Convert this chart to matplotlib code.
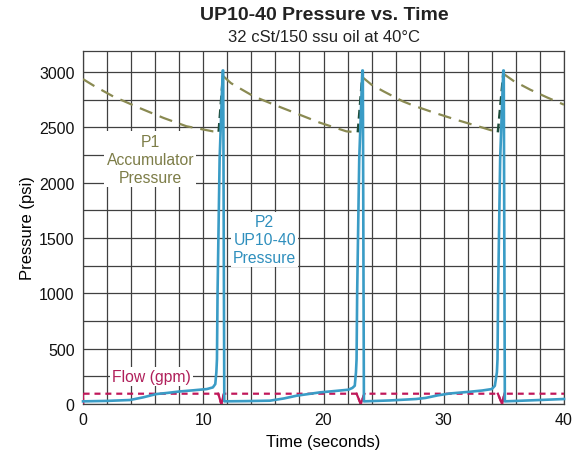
import numpy as np
import matplotlib
matplotlib.use("Agg")
import matplotlib.pyplot as plt

plt.rcParams['font.family'] = ['Liberation Sans', 'DejaVu Sans']

# P1 accumulator pressure (psi) vs time (s)
p1_t = [0, 0.9, 1.6, 2.5, 4.7, 6.7, 8.6, 10.8, 11.28, 11.64, 12.3, 13.0, 14.2, 16.0, 18.0,
        19.7, 21.9, 22.85, 23.22, 24.0, 25.0, 26.6, 27.5, 29.0, 31.0, 33.0, 34.5, 34.95,
        35.8, 37.2, 38.6, 40]
p1_p = [2936, 2876, 2834, 2780, 2675, 2585, 2510, 2464, 2460, 2965, 2900, 2855, 2780, 2700, 2615,
        2542, 2464, 2455, 2955, 2885, 2825, 2735, 2696, 2640, 2570, 2505, 2455, 2985,
        2920, 2840, 2770, 2705]

# P2 UP10-40 pressure (psi)
p2_t = [0, 2.0, 3.9, 5.0, 6.1, 7.0, 8.1, 9.2, 10.3, 10.8, 11.0, 11.09, 11.14, 11.19, 11.36, 11.62, 11.66, 11.75,
        13.5, 15.55, 16.7, 17.77, 19.7, 21.0, 22.06, 22.4, 22.6, 22.7, 22.75, 22.8, 22.97, 23.23, 23.27, 23.36,
        25.5, 27.7, 28.5, 29.5, 30.5, 32.2, 33.2, 34.0, 34.25, 34.42, 34.47, 34.52, 34.69, 34.95, 34.99, 35.08,
        37.5, 40]
p2_p = [24, 28, 36, 60, 90, 100, 114, 124, 135, 150, 180, 286, 405, 1007, 2209, 3014, 3014, 24,
        26, 30, 50, 75, 105, 118, 129, 145, 165, 286, 405, 1007, 2209, 3014, 3014, 24,
        32, 45, 55, 78, 95, 111, 122, 135, 165, 286, 405, 1007, 2209, 3014, 3014, 24,
        34, 45]

# flow, drawn on the pressure scale
flow_t = [0, 0, 11.25, 11.5, 11.72, 22.75, 23.1, 23.4, 34.5, 34.85, 35.05, 40]
flow_v = [0, 93, 93, 0, 93, 93, 0, 93, 93, 0, 93, 93]

olive = '#8a8a52'
dkgreen = '#1e4d3b'
blue = '#3a9cc6'
crimson = '#c0185a'

fig = plt.figure(figsize=(5.84, 4.56), dpi=100)
ax = fig.add_axes([83/584, 51/456, 481/584, 353/456])

ax.set_xlim(0, 40)
ax.set_ylim(0, 3190)
ax.set_xticks(np.arange(0, 41, 2), minor=True)
ax.set_yticks(np.arange(0, 3190, 250), minor=True)
ax.set_xticks([0, 10, 20, 30, 40])
ax.set_yticks([0, 500, 1000, 1500, 2000, 2500, 3000])
ax.grid(True, which='both', color='#404040', lw=0.9)
ax.set_axisbelow(True)
ax.tick_params(which='both', length=0, labelsize=11.5, pad=6, colors='#111111')
for s in ax.spines.values():
    s.set_color('#404040')
    s.set_linewidth(0.9)

# P1: falling parts olive, rising parts dark green
t1 = np.array(p1_t)
v1 = np.array(p1_p)
rising = np.diff(v1) > 0
start = 0
for i in range(1, len(t1)):
    if i == len(t1) - 1 or rising[i] != rising[start]:
        seg = slice(start, i + 1)
        if rising[start]:
            ax.plot(t1[seg], v1[seg], color=dkgreen, lw=1.8, ls=(0, (3.5, 2)), zorder=3)
        else:
            ax.plot(t1[seg], v1[seg], color=olive, lw=1.6, ls=(0, (6, 3.6)), zorder=3)
        start = i

# flow: dashed level, solid drops
ft = np.array(flow_t)
fv = np.array(flow_v)
ax.plot(ft, fv, color=crimson, lw=1.6, ls=(0, (2.7, 2.2)), zorder=3)
for i in range(len(ft) - 1):
    if fv[i] != fv[i + 1]:
        ax.plot(ft[i:i + 2], fv[i:i + 2], color=crimson, lw=1.6, zorder=3)

ax.plot(p2_t, p2_p, color=blue, lw=1.9, zorder=4, clip_on=False)

box = dict(facecolor='white', edgecolor='none', pad=1.5)
ax.text(5.6, 2214, 'P1\nAccumulator\nPressure', color='#7d7d48', fontsize=11.3,
        ha='center', va='center', linespacing=1.25, bbox=box, zorder=2.5)
ax.text(15.1, 1490, 'P2\nUP10-40\nPressure', color='#2f8fbd', fontsize=11.3,
        ha='center', va='center', linespacing=1.25, bbox=box, zorder=2.5)
ax.text(5.7, 245, 'Flow (gpm)', color='#b01f5a', fontsize=11.3,
        ha='center', va='center', bbox=box, zorder=2.5)

ax.set_xlabel('Time (seconds)', fontsize=12, labelpad=5)
ax.set_ylabel('Pressure (psi)', fontsize=12, labelpad=3)

fig.text(324/584, 1 - 16/456, 'UP10-40 Pressure vs. Time', fontsize=14, fontweight='bold',
         ha='center', va='center', color='#222222')
fig.text(324/584, 1 - 37/456, '32 cSt/150 ssu oil at 40°C', fontsize=12,
         ha='center', va='center', color='#222222')

fig.savefig('out.png', dpi=100)
